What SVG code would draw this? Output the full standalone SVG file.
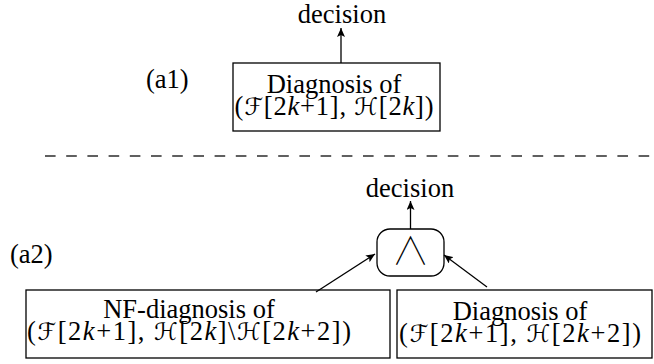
<svg xmlns="http://www.w3.org/2000/svg" width="654" height="364" viewBox="0 0 654 364">
<style>
text{font-family:"Liberation Serif","DejaVu Serif",serif;font-size:26.5px;fill:#000}
.m{font-family:"DejaVu Serif","DejaVu Sans",serif;font-size:24px}
.i{font-style:italic}
.box{fill:#fff;stroke:#000;stroke-width:1.3}
.conn{stroke:#000;stroke-width:1.3;fill:none}
.wedge{font-family:"Noto Sans CJK SC","DejaVu Sans",sans-serif;font-weight:100;font-size:38px}
</style>
<defs>
<marker id="ah" markerUnits="userSpaceOnUse" markerWidth="10" markerHeight="8" refX="9" refY="4" orient="auto">
<path d="M0,0 L9,4 L0,8 L2,4 z" fill="#000"/>
</marker>
</defs>
<line x1="45" y1="156" x2="654" y2="156" stroke="#606060" stroke-width="2" stroke-dasharray="10.6 10.6"/>
<text x="146" y="88">(a1)</text>
<text x="10" y="263">(a2)</text>
<g id="decision1"><text x="342" y="23" text-anchor="middle">decision</text></g>
<g id="diag1">
<rect class="box" x="233" y="63" width="207" height="68"/>
<text x="334" y="93" text-anchor="middle">Diagnosis of</text>
<text x="334" y="115" text-anchor="middle" textLength="199" lengthAdjust="spacing">(<tspan class="m">ℱ</tspan>[2<tspan class="i">k</tspan>+1], <tspan class="m">ℋ</tspan>[2<tspan class="i">k</tspan>])</text>
</g>
<g id="decision2"><text x="410" y="197" text-anchor="middle">decision</text></g>
<g id="and">
<rect class="box" x="377" y="229" width="67" height="47" rx="13"/>
<text class="wedge" x="410.5" y="264" text-anchor="middle">∧</text>
</g>
<g id="nfdiag">
<rect class="box" x="26" y="290" width="364" height="68"/>
<text x="189" y="318" text-anchor="middle">NF-diagnosis of</text>
<text x="189" y="340" text-anchor="middle" textLength="324" lengthAdjust="spacing">(<tspan class="m">ℱ</tspan>[2<tspan class="i">k</tspan>+1], <tspan class="m">ℋ</tspan>[2<tspan class="i">k</tspan>]\<tspan class="m">ℋ</tspan>[2<tspan class="i">k</tspan>+2])</text>
</g>
<g id="diag2">
<rect class="box" x="397" y="290" width="255" height="68"/>
<text x="520" y="320" text-anchor="middle">Diagnosis of</text>
<text x="520" y="342" text-anchor="middle" textLength="242" lengthAdjust="spacing">(<tspan class="m">ℱ</tspan>[2<tspan class="i">k</tspan>+1], <tspan class="m">ℋ</tspan>[2<tspan class="i">k</tspan>+2])</text>
</g>
<g id="connectors">
<line class="conn" x1="341" y1="63" x2="341" y2="28" marker-end="url(#ah)"/>
<line class="conn" x1="410.5" y1="229" x2="410.5" y2="201" marker-end="url(#ah)"/>
<line class="conn" x1="316" y1="292" x2="375" y2="254" marker-end="url(#ah)"/>
<line class="conn" x1="487" y1="287" x2="444" y2="255" marker-end="url(#ah)"/>
</g>
</svg>
